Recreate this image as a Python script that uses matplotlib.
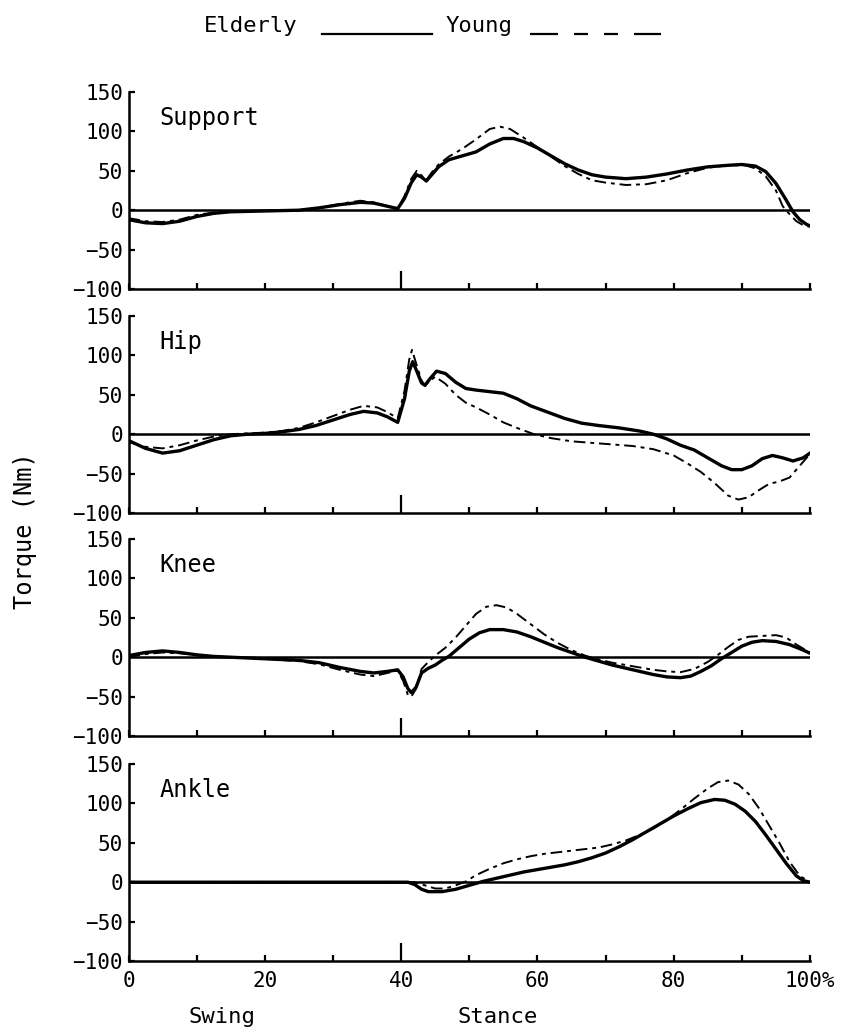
import matplotlib
matplotlib.use("Agg")
import matplotlib.pyplot as plt
from matplotlib.lines import Line2D

plt.rcParams['font.family'] = ['DejaVu Sans Mono']

# percent of gait cycle / torque (Nm)
sup_old_x = [0, 2.5, 5, 7.5, 10, 12.5, 15, 20, 25, 28, 31, 34, 36, 38, 39.5, 40.5, 41.5, 42.3, 43, 43.7,
             44.5, 45.5, 47, 49, 51, 53, 55, 56.5, 58, 60, 62, 64, 66, 68, 70, 73, 76, 79, 82, 85, 88,
             90, 92, 93.5, 95, 96.5, 97.5, 98.5, 99.5, 100]
sup_old_y = [-12, -16, -17, -14, -8, -4, -2, -1, 0, 3, 7, 10, 9, 5, 2, 15, 35, 45, 42, 37,
             45, 55, 64, 69, 74, 84, 91, 91, 87, 79, 69, 59, 51, 45, 42, 40, 42, 46, 51, 55, 57,
             58, 56, 49, 34, 13, -2, -12, -18, -20]
sup_young_x = [0, 2.5, 5, 7.5, 10, 12.5, 15, 20, 25, 28, 31, 34, 36, 38, 39.5, 40.5, 41.5, 42.3, 43, 43.7,
               44.5, 45.5, 47, 49, 51, 53, 54.5, 56, 58, 60, 62, 64, 66, 68, 70, 73, 76, 79, 82, 85, 88,
               90.5, 92, 93.5, 95, 96, 97, 98, 99, 100]
sup_young_y = [-10, -14, -15, -12, -6, -3, -1, -1, 0, 3, 8, 12, 10, 5, 2, 18, 40, 50, 44, 38,
               48, 58, 68, 78, 90, 103, 106, 103, 92, 80, 68, 56, 46, 38, 35, 32, 33, 38, 47, 54, 57,
               57, 53, 43, 25, 5, -5, -14, -19, -21]

hip_old_x = [0, 2.5, 5, 7.5, 10, 12.5, 15, 17.5, 20, 22.5, 25, 27.5, 30, 32.5, 34.5, 36.5, 38, 39.5,
             40.5, 41.2, 41.7, 42.3, 43, 43.5, 44.2, 45.2, 46.5, 48, 49.5, 51, 53, 55, 57, 59, 61.5,
             64, 66.5, 69, 72, 75, 77, 79, 81, 83, 85, 87, 88.5, 90, 91.5, 93, 94.5, 96, 97.5, 99, 100]
hip_old_y = [-8, -18, -24, -21, -14, -7, -2, 0, 1, 3, 6, 11, 18, 25, 29, 27, 22, 15,
             45, 80, 92, 80, 65, 62, 70, 80, 77, 66, 58, 56, 54, 52, 45, 36, 28,
             20, 14, 11, 8, 4, 0, -6, -14, -20, -30, -40, -45, -45, -40, -31, -27, -30, -34, -30, -24]
hip_young_x = [0, 2.5, 5, 7.5, 10, 12.5, 15, 17.5, 20, 22.5, 25, 27.5, 30, 32.5, 34.5, 36.5, 38, 39.5,
               40.5, 41.2, 41.6, 42.2, 43, 43.5, 44.3, 45, 46.5, 48, 49.5, 51, 53, 55, 57, 59.5, 62,
               65, 68, 71, 74, 77, 80, 82, 84, 86, 88, 89.5, 91, 92.5, 94, 95.5, 97, 98.5, 100]
hip_young_y = [-10, -16, -18, -14, -8, -3, 0, 1, 2, 4, 8, 15, 23, 31, 36, 34, 28, 20,
               55, 95, 107, 90, 68, 62, 68, 73, 64, 50, 40, 34, 25, 15, 8, 0, -5,
               -9, -11, -13, -15, -19, -27, -37, -48, -62, -78, -83, -80, -71, -63, -60, -55, -40, -25]

knee_old_x = [0, 2.5, 5, 7.5, 10, 12.5, 15, 20, 25, 28, 31, 34, 36, 38, 39.5, 40.3, 41, 41.5, 42.2,
              43, 44, 45, 46, 47, 48.5, 50, 51.5, 53, 55, 57, 59, 61, 63, 65, 67, 69, 71, 73, 75,
              77, 79, 81, 82.5, 84, 85.5, 87, 88.5, 90, 91.5, 93, 95, 97, 99, 100]
knee_old_y = [2, 6, 8, 6, 3, 1, 0, -2, -4, -7, -13, -18, -20, -18, -16, -25, -40, -45, -38,
              -20, -14, -10, -4, 1, 12, 23, 31, 35, 35, 32, 26, 19, 12, 6, 0, -5, -10, -14, -18,
              -22, -25, -26, -24, -18, -11, -2, 6, 14, 19, 21, 20, 16, 9, 5]
knee_young_x = [0, 2.5, 5, 7.5, 10, 12.5, 15, 20, 25, 28, 31, 34, 36, 38, 39.5, 40.3, 41, 41.5, 42.2,
                43, 44, 45, 46.5, 48, 49.5, 51, 52.5, 54, 55.5, 57, 59, 61, 63, 65, 67, 69, 71, 73,
                75, 77, 79, 81, 83, 85, 86.5, 88, 89.5, 91, 93, 95, 96.5, 98, 100]
knee_young_y = [0, 4, 6, 5, 3, 1, 0, -2, -5, -9, -16, -22, -24, -20, -17, -30, -48, -50, -40,
                -15, -6, 2, 12, 25, 40, 55, 64, 66, 63, 55, 42, 29, 18, 9, 2, -3, -7, -10,
                -13, -16, -18, -19, -15, -6, 3, 13, 22, 26, 27, 28, 25, 16, 6]

ank_old_x = [0, 10, 20, 30, 40, 41, 42, 43, 44, 46, 48, 50, 52, 54, 56, 58, 60, 62, 64, 66, 68, 70,
             72, 74, 76, 78, 80, 82, 84, 86, 87.5, 89, 90.5, 92, 93.5, 95, 96.5, 98, 99, 100]
ank_old_y = [0, 0, 0, 0, 0, 0, -3, -9, -12, -12, -9, -4, 1, 5, 9, 13, 16, 19, 22, 26, 31, 37,
             45, 54, 64, 74, 84, 93, 101, 105, 104, 99, 90, 77, 60, 42, 24, 8, 2, 0]
ank_young_x = [0, 10, 20, 30, 40, 42, 43.5, 45, 46.5, 48, 49.5, 51, 53, 55, 57, 59, 61, 63, 65, 67,
               69, 71, 73, 75, 77, 79, 81, 83, 85, 86.5, 88, 89.5, 91, 92.5, 94, 95.5, 97, 98.5, 100]
ank_young_y = [0, 0, 0, 0, 0, 0, -4, -8, -8, -4, 1, 9, 17, 24, 29, 33, 36, 38, 40, 42,
               44, 48, 53, 60, 68, 79, 92, 106, 119, 127, 129, 124, 112, 94, 72, 50, 26, 8, 0]

panels = ["Support", "Hip", "Knee", "Ankle"]
old_x = [sup_old_x, hip_old_x, knee_old_x, ank_old_x]
old_y = [sup_old_y, hip_old_y, knee_old_y, ank_old_y]
young_x = [sup_young_x, hip_young_x, knee_young_x, ank_young_x]
young_y = [sup_young_y, hip_young_y, knee_young_y, ank_young_y]

xticks = [0, 20, 40, 60, 80, 100]
xticklabels = ["0", "20", "40", "60", "80", "100%"]
yticks = [-100, -50, 0, 50, 100, 150]

W, H = 856, 1034
fig = plt.figure(figsize=(W / 100, H / 100), dpi=100)

left, right = 128.5, 810
tops = [92, 316, 539, 764]
ph = 197
young_style = (0, (6, 2.5, 2, 2.5))

for i, name in enumerate(panels):
    ax = fig.add_axes([left / W, 1 - (tops[i] + ph) / H, (right - left) / W, ph / H])
    ax.plot(old_x[i], old_y[i], color="k", lw=2.4, solid_joinstyle="round")
    ax.plot(young_x[i], young_y[i], color="k", lw=1.4, linestyle=young_style)
    ax.axhline(0, color="k", lw=1.8)
    ax.set_xlim(0, 100)
    ax.set_ylim(-100, 150)
    for s in ["top", "right"]:
        ax.spines[s].set_visible(False)
    for s in ["left", "bottom"]:
        ax.spines[s].set_linewidth(1.8)
    ax.set_yticks(yticks)
    ax.set_xticks(xticks)
    ax.set_xticks([10, 30, 50, 70, 90], minor=True)
    ax.tick_params(axis="both", which="both", direction="in", length=4, width=1.6,
                   labelsize=15, pad=4)
    ax.tick_params(axis="x", pad=7)
    ax.xaxis.get_major_ticks()[2].tick1line.set_markersize(13)
    if i == 3:
        ax.set_xticklabels(xticklabels)
    else:
        ax.set_xticklabels([])
    ax.text(4.6, 117, name, fontsize=17, va="center", ha="left")

fig.text(25 / W, 1 - 531 / H, "Torque (Nm)", rotation=90, fontsize=17, va="center", ha="center")
fig.text(222 / W, 1 - 1017 / H, "Swing", fontsize=16, ha="center", va="center")
fig.text(498 / W, 1 - 1017 / H, "Stance", fontsize=16, ha="center", va="center")

# legend across the top
fig.text(251 / W, 1 - 26 / H, "Elderly", fontsize=16, ha="center", va="center")
fig.text(479 / W, 1 - 26 / H, "Young", fontsize=16, ha="center", va="center")
fig.add_artist(Line2D([322 / W, 432 / W], [1 - 34 / H, 1 - 34 / H], color="k", lw=1.6,
                      transform=fig.transFigure))
fig.add_artist(Line2D([530 / W, 661 / W], [1 - 34 / H, 1 - 34 / H], color="k", lw=1.6,
                      linestyle=(0, (12.6, 7.2, 6.3, 7.2, 6.3, 7.2)),
                      transform=fig.transFigure))

fig.savefig("out.png", dpi=100)
